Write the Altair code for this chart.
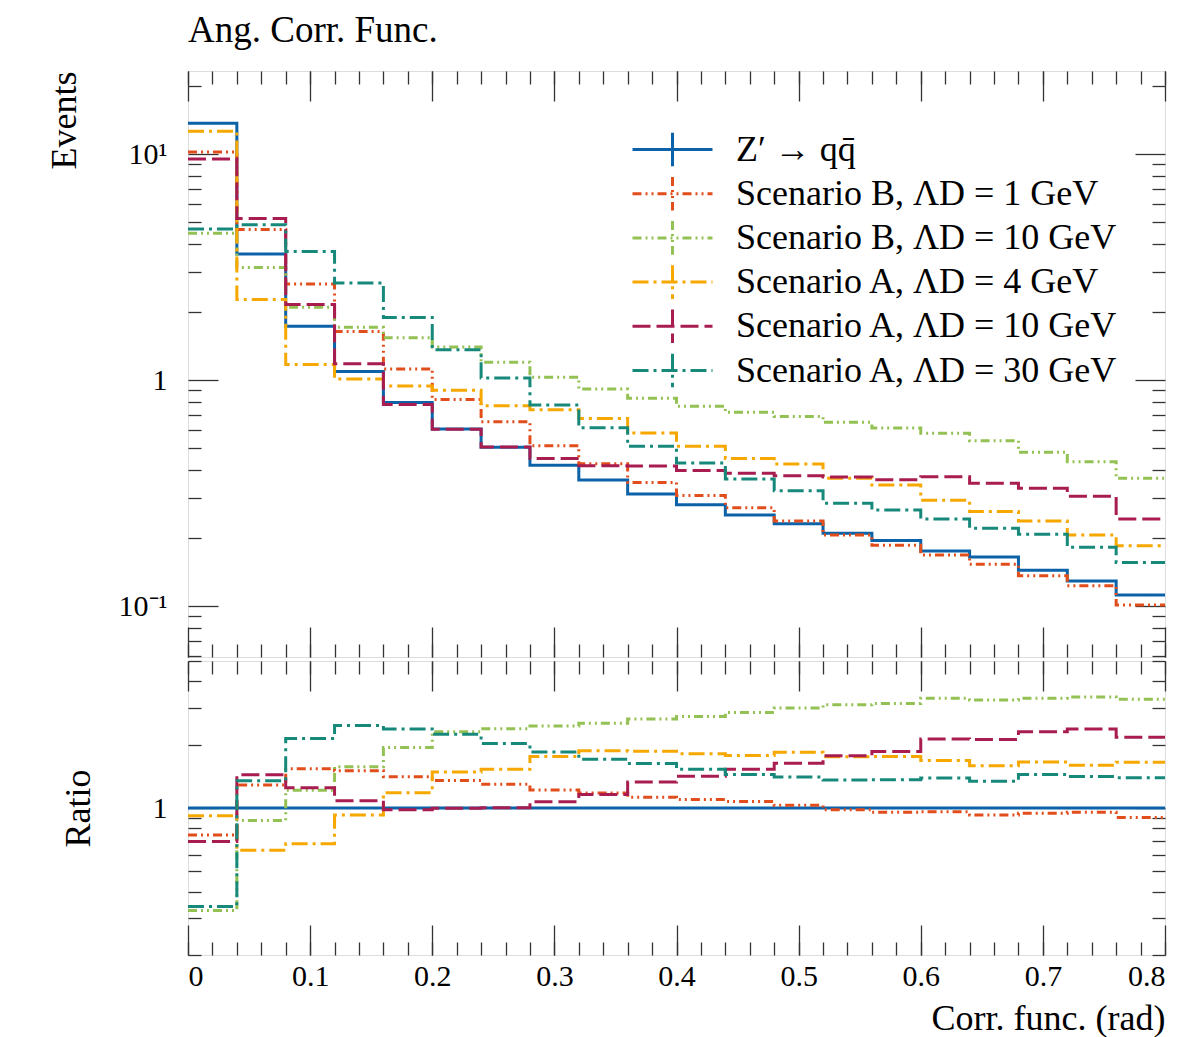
import altair as alt
import pandas as pd

# ---------------- data ----------------
bin_edges = [0.0, 0.04, 0.08, 0.12, 0.16, 0.2, 0.24, 0.28, 0.32, 0.36, 0.4,
             0.44, 0.48, 0.52, 0.56, 0.6, 0.64, 0.68, 0.72, 0.76, 0.8]

series_names = [
    "Z′ → qq\u0304",
    "Scenario B, ΛD = 1 GeV",
    "Scenario B, ΛD = 10 GeV",
    "Scenario A, ΛD = 4 GeV",
    "Scenario A, ΛD = 10 GeV",
    "Scenario A, ΛD = 30 GeV",
]

zprime = [13.7, 3.61, 1.73, 1.09, 0.795, 0.607, 0.504, 0.42, 0.361, 0.313,
          0.281, 0.253, 0.231, 0.21, 0.195, 0.175, 0.165, 0.144, 0.129, 0.112]
scen_b_1 = [10.2, 4.64, 2.66, 1.64, 1.12, 0.82, 0.654, 0.512, 0.426, 0.352,
            0.308, 0.272, 0.238, 0.206, 0.186, 0.168, 0.153, 0.136, 0.123, 0.101]
scen_b_10 = [4.46, 3.15, 2.10, 1.71, 1.54, 1.40, 1.20, 1.03, 0.912, 0.83,
             0.765, 0.72, 0.69, 0.65, 0.613, 0.582, 0.539, 0.479, 0.435, 0.368]
scen_a_4 = [12.6, 2.27, 1.17, 1.01, 0.94, 0.90, 0.77, 0.739, 0.676, 0.583,
            0.509, 0.45, 0.425, 0.368, 0.343, 0.294, 0.262, 0.238, 0.206, 0.185]
scen_a_10 = [9.5, 5.19, 2.16, 1.18, 0.78, 0.605, 0.505, 0.45, 0.418, 0.416,
             0.398, 0.387, 0.377, 0.372, 0.362, 0.373, 0.349, 0.332, 0.306, 0.243]
scen_a_30 = [4.66, 4.87, 3.70, 2.69, 1.89, 1.36, 1.02, 0.775, 0.615, 0.509,
             0.429, 0.365, 0.324, 0.285, 0.266, 0.243, 0.221, 0.208, 0.182, 0.156]

series_values = [zprime, scen_b_1, scen_b_10, scen_a_4, scen_a_10, scen_a_30]

colors = ["#0b62a8", "#e24d1c", "#94c153", "#f7a800", "#a81c50", "#16897a"]
dashes = [[1, 0], [9, 4, 2, 4, 2, 4], [9, 4, 2, 4, 2, 4], [16, 5, 3, 5], [18, 6], [16, 5, 3, 5]]

x_major = [0.0, 0.1, 0.2, 0.3, 0.4, 0.5, 0.6, 0.7, 0.8]
x_minor = [0.0, 0.02, 0.04, 0.06, 0.08, 0.1, 0.12, 0.14, 0.16, 0.18, 0.2, 0.22, 0.24,
           0.26, 0.28, 0.3, 0.32, 0.34, 0.36, 0.38, 0.4, 0.42, 0.44, 0.46, 0.48, 0.5,
           0.52, 0.54, 0.56, 0.58, 0.6, 0.62, 0.64, 0.66, 0.68, 0.7, 0.72, 0.74, 0.76,
           0.78, 0.8]
y_major = [0.1, 1, 10]
y_minor = [0.06, 0.07, 0.08, 0.09, 0.2, 0.3, 0.4, 0.5, 0.6, 0.7, 0.8, 0.9,
           2, 3, 4, 5, 6, 7, 8, 9, 20]
r_major = [1]
r_minor = [0.2, 0.3, 0.4, 0.5, 0.6, 0.7, 0.8, 0.9, 2, 3, 4, 5]

rows = []
for k, (name, vals) in enumerate(zip(series_names, series_values)):
    ext = vals + [vals[-1]]
    for x, v in zip(bin_edges, ext):
        rows.append({"x": x, "series": name, "k": k, "value": v})
df = pd.DataFrame(rows)

# ---------------- layout ----------------
W, H1, H2 = 977, 586, 294
FONT = "Liberation Serif"
TICK_COLOR = "#333333"

xs = alt.Scale(domain=[0, 0.8], nice=False, zero=False)
ys_top = alt.Scale(type="log", domain=[0.0595, 23.3], nice=False)
ys_bot = alt.Scale(type="log", domain=[0.2, 5], nice=False)

legend = alt.Legend(
    title=None, orient="none", legendX=466.5, legendY=60.5,
    symbolType="M-2.963,0H2.963M0,-1.244V1.244", symbolSize=729, symbolStrokeWidth=3,
    labelFont=FONT, labelFontSize=36, labelOffset=45.5, rowPadding=-1.8,
    labelColor="black", labelLimit=0,
)


def tick_axis(orient, offset, values, size):
    return alt.Axis(orient=orient, offset=offset, values=values, tickSize=size,
                    labels=False, domain=False, grid=False, title=None,
                    tickColor=TICK_COLOR, tickWidth=1.3)


def panel(base, yfield, yscale, H, ymaj, ymin, yaxis_main, xaxis_main, color_legend):
    lines = base.mark_line(interpolate="step-after", strokeWidth=3, clip=True).encode(
        x=alt.X("x:Q", scale=xs, axis=None),
        y=alt.Y(f"{yfield}:Q", scale=yscale, axis=None),
        color=alt.Color("series:N", scale=alt.Scale(domain=series_names, range=colors),
                        legend=color_legend, sort=series_names),
        strokeDash=alt.StrokeDash("series:N", scale=alt.Scale(domain=series_names, range=dashes),
                                  legend=color_legend, sort=series_names),
        order=alt.Order("k:Q"),
    )
    specs = [
        (xaxis_main, yaxis_main),
        (tick_axis("top", -H, x_major, 30), tick_axis("right", -W, ymaj, 30)),
        (tick_axis("top", -H, x_minor, 13), tick_axis("right", -W, ymin, 13)),
        (tick_axis("bottom", -H, x_major, 30), tick_axis("left", -W, ymaj, 30)),
        (tick_axis("bottom", -H, x_minor, 13), tick_axis("left", -W, ymin, 13)),
    ]
    layers = [lines]
    for xa, ya in specs:
        layers.append(base.mark_line(opacity=0).encode(
            x=alt.X("x:Q", scale=xs, axis=xa),
            y=alt.Y(f"{yfield}:Q", scale=yscale, axis=ya),
            detail="series:N",
        ))
    return alt.layer(*layers).resolve_axis(x="independent", y="independent")


# upper panel
top_base = alt.Chart(df)
top_yaxis = alt.Axis(
    orient="left", values=y_major,
    labelExpr="datum.value == 10 ? '10¹' : (datum.value == 1 ? '1' : '10⁻¹')",
    ticks=False, domain=False, grid=False, labelPadding=21,
    labelFont=FONT, labelFontSize=30, labelColor="black",
    title="Events", titleFont=FONT, titleFontSize=36, titleFontWeight="normal",
    titleColor="black", titleAnchor="end", titleX=-113, titleBaseline="alphabetic",
)
top_xaxis = alt.Axis(orient="bottom", labels=False, ticks=False, domain=False, grid=False, title=None)
upper = panel(top_base, "value", ys_top, H1, y_major, y_minor, top_yaxis, top_xaxis, legend).properties(
    width=W, height=H1,
    title=alt.TitleParams("Ang. Corr. Func.", anchor="start", frame="group", font=FONT,
                          fontSize=37, fontWeight="normal", color="black", offset=20),
)

# lower panel (ratio to Z')
bot_base = alt.Chart(df).transform_calculate(
    ref="datum.k === 0 ? datum.value : 0"
).transform_joinaggregate(
    refval="max(ref)", groupby=["x"]
).transform_calculate(
    ratio="datum.value / datum.refval"
)
bot_yaxis = alt.Axis(
    orient="left", values=r_major, labelExpr="'1'",
    ticks=False, domain=False, grid=False, labelPadding=21,
    labelFont=FONT, labelFontSize=30, labelColor="black",
    title="Ratio", titleFont=FONT, titleFontSize=36, titleFontWeight="normal",
    titleColor="black", titleX=-99, titleBaseline="alphabetic",
)
bot_xaxis = alt.Axis(
    orient="bottom", values=x_major,
    labelExpr="datum.value == 0 ? '0' : format(datum.value, '.1f')",
    ticks=False, domain=False, grid=False, labelPadding=6,
    labelFont=FONT, labelFontSize=30, labelColor="black",
    title="Corr. func. (rad)", titleFont=FONT, titleFontSize=36, titleFontWeight="normal",
    titleColor="black", titleAnchor="end", titleAlign="right", titleBaseline="alphabetic",
    titleY=74, titleX=W,
)
lower = panel(bot_base, "ratio", ys_bot, H2, r_major, r_minor, bot_yaxis, bot_xaxis, None).properties(
    width=W, height=H2)

chart = alt.vconcat(upper, lower, spacing=0).resolve_scale(
    color="independent", strokeDash="independent"
).resolve_legend(
    color="independent", strokeDash="independent"
).properties(
    padding={"left": 37, "top": 3, "right": 10, "bottom": 0},
).configure_view(
    stroke="#333333", strokeWidth=1.6
).configure(font=FONT, background="white")

chart.save("out.html", embed_options={"renderer": "svg", "actions": False})
